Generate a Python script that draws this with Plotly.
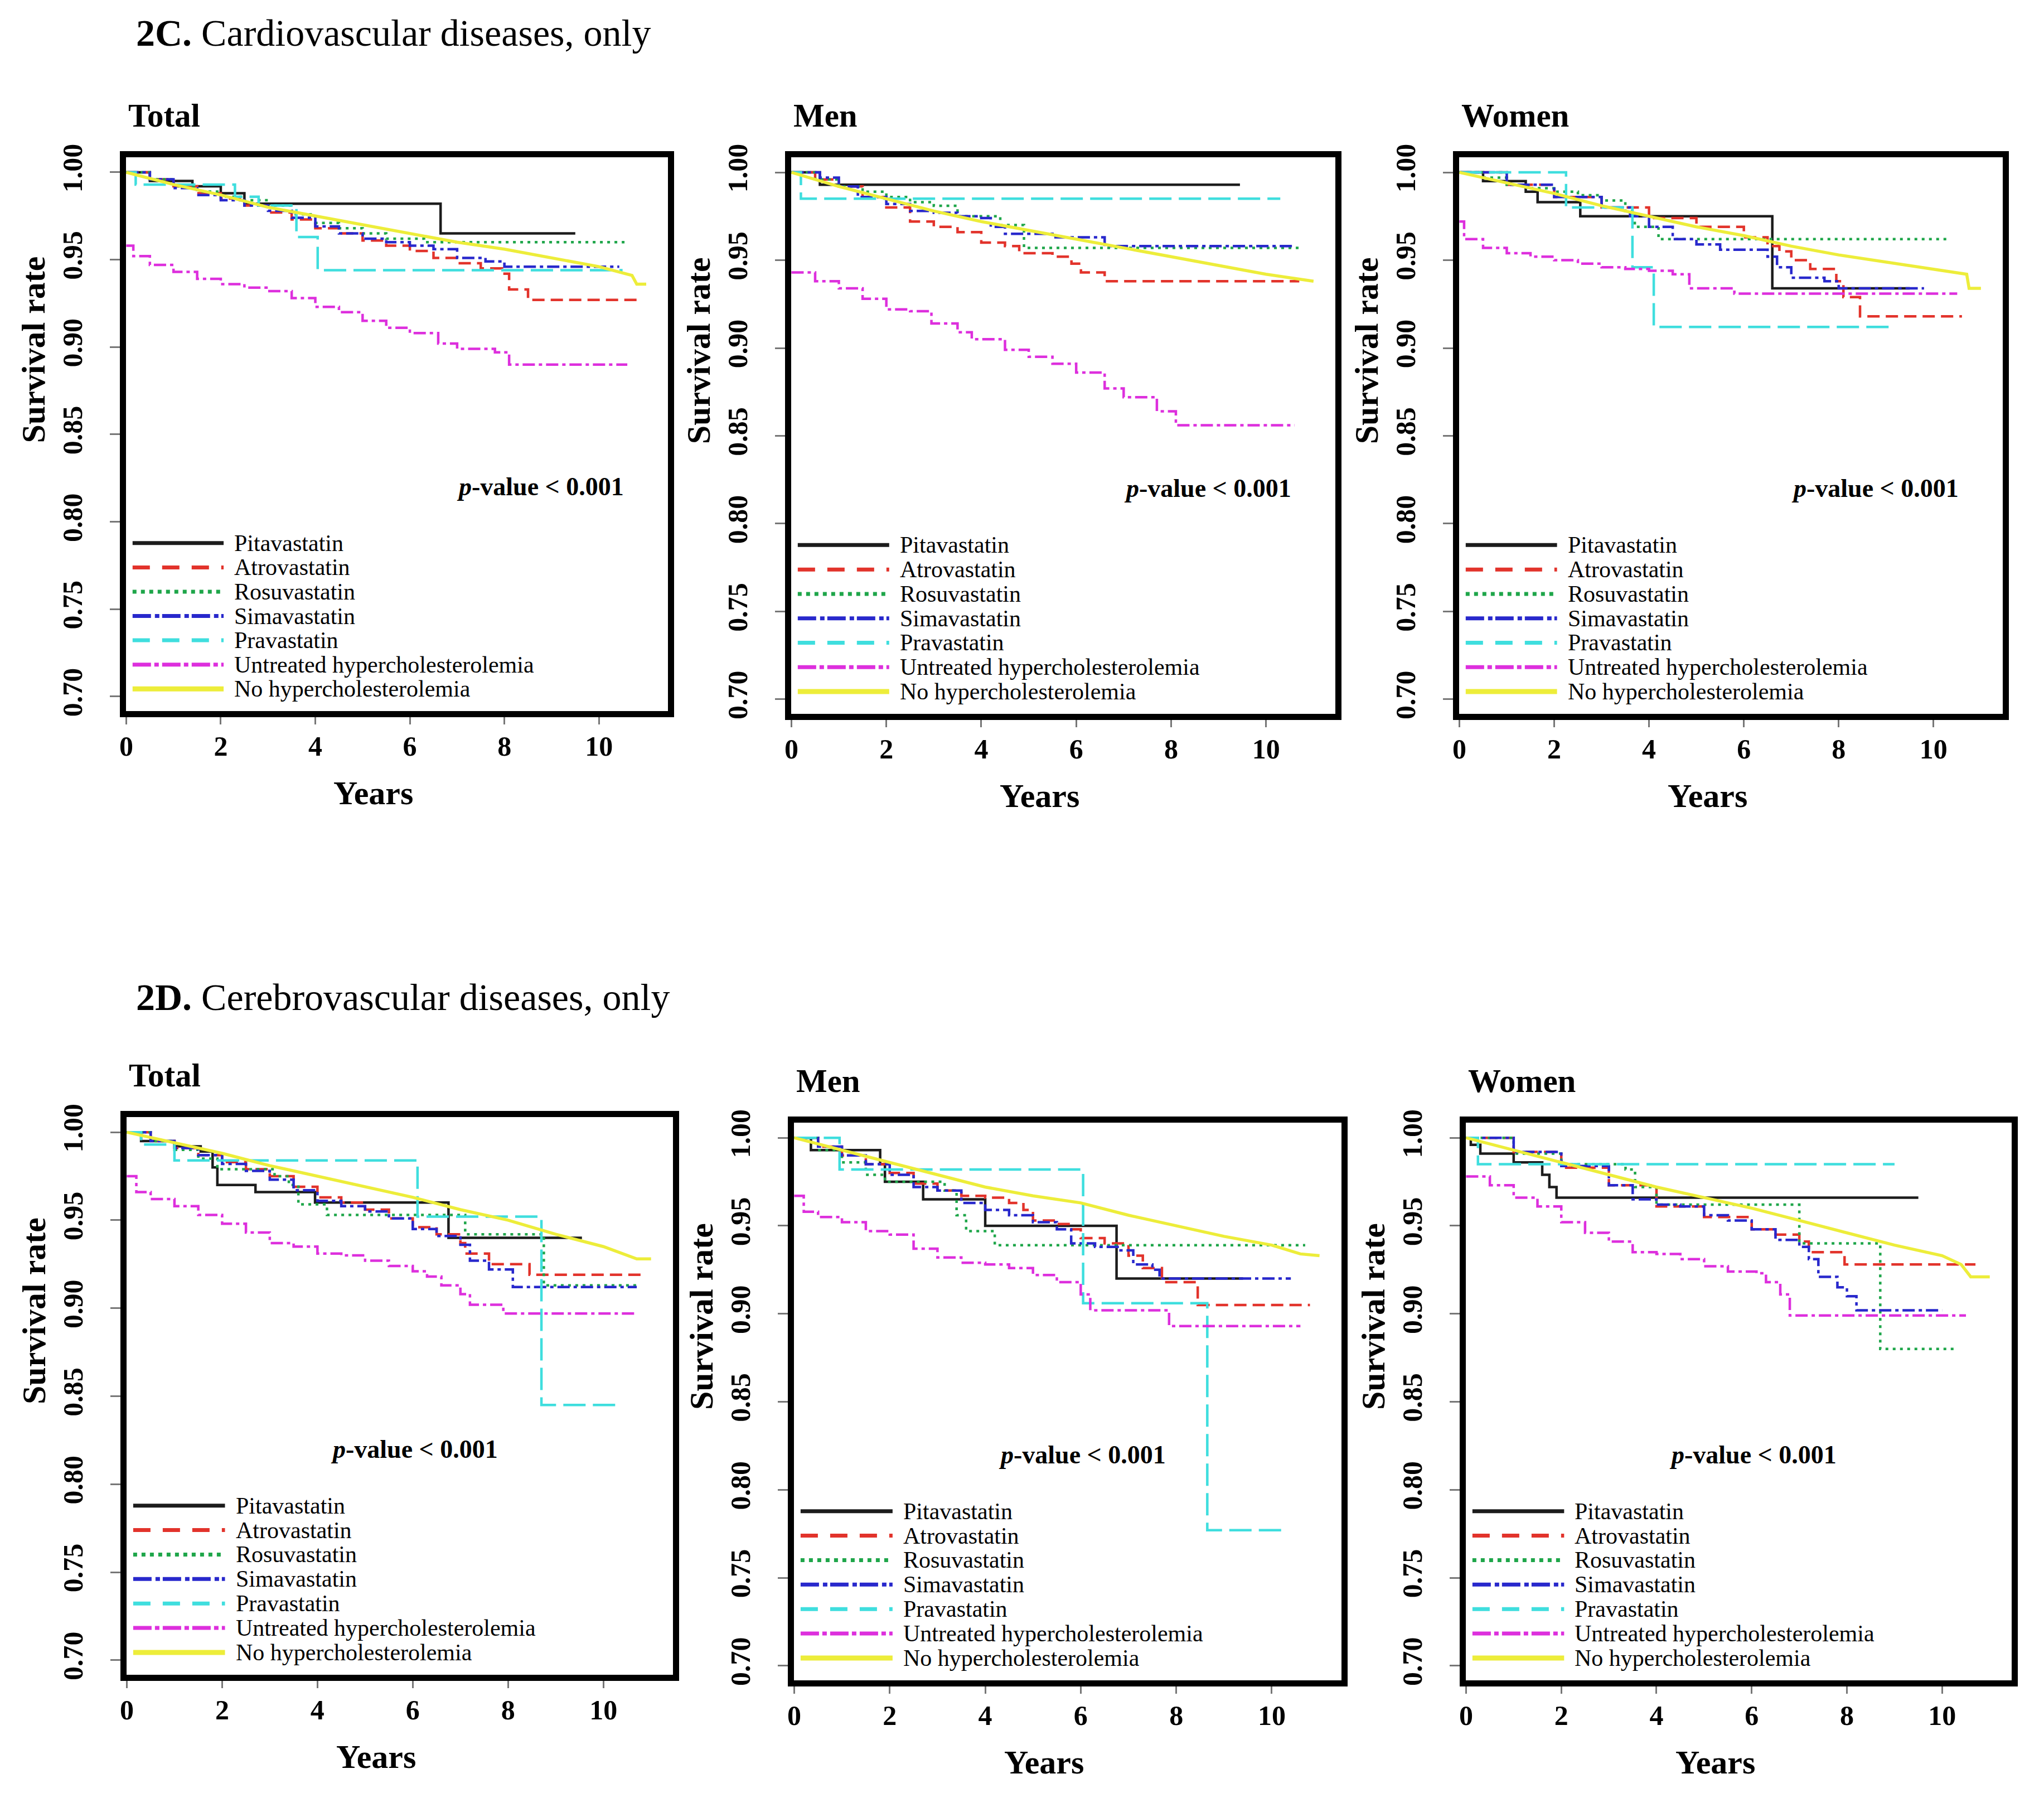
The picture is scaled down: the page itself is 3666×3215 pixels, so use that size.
import plotly.graph_objects as go

W, H = 3666, 3215
SERIF = "Liberation Serif"

# ---- series labels and styles -------------------------------------------
NAMES = ["Pitavastatin", "Atrovastatin", "Rosuvastatin", "Simavastatin",
         "Pravastatin", "Untreated hypercholesterolemia", "No hypercholesterolemia"]
COLORS = ["#1c1c1c", "#e2332b", "#1fa64a", "#2828cc", "#3fdede", "#dd2fdd", "#eded3a"]
CURVE_DASH = ["solid", "22px,11px", "5px,8px", "22px,7px,6px,7px",
              "40px,13px", "22px,7px,6px,7px", "solid"]
KEY_DASH = ["solid", "31px,22px", "7px,8px", "33px,7px,8px,5px",
            "31px,22px", "33px,6px,8px,6px", "solid"]
CURVE_SHAPE = ["hv", "hv", "hv", "hv", "hv", "hv", "linear"]

YEAR_TICKS = [0, 2, 4, 6, 8, 10]
RATE_TICKS = [0.70, 0.75, 0.80, 0.85, 0.90, 0.95, 1.00]
SECTION_TAGS = ["2C.", "2D."]
SECTIONS = ["Cardiovascular diseases, only", "Cerebrovascular diseases, only"]
GROUPS = ["Total", "Men", "Women"]

# ---- 2C cardiovascular: Total ---------------------------------------------
cv_total_t = [
    [0, 0.5, 1.4, 2.0, 2.5, 6.65, 9.5],
    [0, 0.5, 1, 1.5, 2, 2.5, 3, 3.5, 4, 4.5, 5, 5.5, 6, 6.5, 7, 7.5, 7.95, 8.1, 8.5, 10.8],
    [0, 0.5, 1, 1.5, 2, 2.5, 3, 3.5, 4, 4.5, 5, 5.5, 6.3, 10.57],
    [0, 0.5, 1, 1.5, 2, 2.5, 3, 3.5, 4, 4.5, 5, 5.5, 6, 6.5, 7, 7.6, 8.0, 10.43],
    [0, 0.2, 2.3, 2.8, 3.6, 4.05, 10.5],
    [0, 0.15, 0.5, 1, 1.5, 2, 2.5, 3, 3.5, 4, 4.5, 5, 5.5, 6, 6.6, 7.0, 7.8, 8.1, 10.6],
    [0, 1, 2, 3, 4, 5, 6, 7, 8, 9, 10, 10.7, 10.8, 11.0],
]
cv_total_s = [
    [1.0, 0.995, 0.992, 0.988, 0.982, 0.965, 0.965],
    [1.0, 0.996, 0.992, 0.988, 0.985, 0.981, 0.977, 0.973, 0.968, 0.965, 0.961, 0.958, 0.955,
     0.951, 0.948, 0.945, 0.942, 0.933, 0.927, 0.927],
    [1.0, 0.996, 0.992, 0.989, 0.986, 0.984, 0.981, 0.976, 0.971, 0.968, 0.965, 0.962, 0.960, 0.960],
    [1.0, 0.996, 0.991, 0.987, 0.984, 0.981, 0.978, 0.974, 0.969, 0.965, 0.962, 0.960, 0.958,
     0.956, 0.951, 0.949, 0.946, 0.946],
    [1.0, 0.993, 0.986, 0.981, 0.963, 0.944, 0.944],
    [0.958, 0.952, 0.947, 0.943, 0.939, 0.936, 0.934, 0.932, 0.928, 0.923, 0.920, 0.915, 0.911,
     0.908, 0.902, 0.899, 0.897, 0.890, 0.890],
    [1.0, 0.993, 0.987, 0.980, 0.975, 0.970, 0.965, 0.960, 0.956, 0.951, 0.946, 0.941, 0.936, 0.936],
]

# ---- 2C cardiovascular: Men -----------------------------------------------
cv_men_t = [
    [0, 0.6, 9.45],
    [0, 0.5, 1, 1.5, 2, 2.5, 3, 3.5, 4, 4.5, 4.8, 5.5, 5.9, 6.1, 6.6, 10.7],
    [0, 0.5, 1, 1.5, 2, 2.5, 3, 3.5, 4.4, 4.9, 10.7],
    [0, 0.6, 1, 1.4, 2, 2.5, 3, 3.5, 4, 4.2, 4.5, 5.5, 6.6, 10.6],
    [0, 0.2, 10.3],
    [0, 0.5, 1, 1.5, 2, 2.5, 2.95, 3.5, 3.8, 4.5, 5, 5.5, 6, 6.6, 7, 7.7, 8.1, 10.6],
    [0, 1, 2, 3, 4, 5, 6, 7, 8, 9, 10, 11.0],
]
cv_men_s = [
    [1.0, 0.993, 0.993],
    [1.0, 0.996, 0.992, 0.986, 0.980, 0.972, 0.969, 0.966, 0.960, 0.958, 0.954, 0.952, 0.948,
     0.943, 0.938, 0.938],
    [1.0, 0.996, 0.992, 0.989, 0.986, 0.983, 0.981, 0.975, 0.970, 0.957, 0.957],
    [1.0, 0.997, 0.992, 0.986, 0.982, 0.978, 0.977, 0.975, 0.974, 0.969, 0.965, 0.963, 0.958, 0.958],
    [1.0, 0.985, 0.985],
    [0.943, 0.938, 0.934, 0.928, 0.922, 0.921, 0.914, 0.909, 0.905, 0.899, 0.895, 0.891, 0.886,
     0.877, 0.872, 0.864, 0.856, 0.856],
    [1.0, 0.992, 0.985, 0.978, 0.972, 0.967, 0.962, 0.957, 0.952, 0.947, 0.942, 0.938],
]

# ---- 2C cardiovascular: Women ---------------------------------------------
cv_women_t = [
    [0, 0.5, 1.4, 1.65, 2.55, 6.6, 9.5],
    [0, 1, 2, 3, 4, 5, 6, 6.5, 6.75, 7.0, 7.4, 7.95, 8.1, 8.45, 10.6],
    [0, 0.5, 1, 1.5, 2, 2.5, 3, 3.5, 3.7, 4.2, 10.3],
    [0, 1, 2, 3, 3.6, 4, 4.5, 5, 5.5, 6.5, 6.7, 7.0, 7.7, 8.0, 9.8],
    [0, 2.25, 3.65, 4.1, 9.1],
    [0, 0.1, 0.5, 1, 1.5, 2, 2.5, 3, 3.5, 4, 4.5, 4.85, 5.8, 10.5],
    [0, 1, 2, 3, 4, 5, 6, 7, 8, 9, 10, 10.7, 10.75, 11.0],
]
cv_women_s = [
    [1.0, 0.995, 0.989, 0.983, 0.975, 0.934, 0.934],
    [1.0, 0.993, 0.986, 0.980, 0.974, 0.969, 0.963, 0.958, 0.955, 0.950, 0.945, 0.938, 0.929,
     0.918, 0.918],
    [1.0, 0.997, 0.993, 0.991, 0.989, 0.987, 0.984, 0.978, 0.969, 0.962, 0.962],
    [1.0, 0.993, 0.986, 0.980, 0.975, 0.969, 0.962, 0.959, 0.956, 0.952, 0.946, 0.940, 0.938,
     0.934, 0.934],
    [1.0, 0.980, 0.946, 0.912, 0.912],
    [0.972, 0.962, 0.957, 0.954, 0.952, 0.950, 0.948, 0.946, 0.945, 0.944, 0.942, 0.934, 0.931, 0.931],
    [1.0, 0.994, 0.988, 0.981, 0.975, 0.969, 0.964, 0.958, 0.953, 0.949, 0.945, 0.942, 0.934, 0.934],
]

# ---- 2D cerebrovascular: Total --------------------------------------------
cb_total_t = [
    [0, 0.3, 1.0, 1.55, 1.8, 1.9, 2.7, 3.95, 6.75, 9.55],
    [0, 0.5, 1, 1.5, 2, 2.5, 3, 3.5, 4, 4.5, 5, 5.5, 6, 6.5, 7.0, 7.1, 7.6, 8.45, 10.8],
    [0, 0.5, 1, 1.5, 1.9, 3.1, 3.4, 3.6, 4.2, 7.1, 8.75, 10.7],
    [0, 0.5, 1, 1.5, 2, 2.5, 3, 3.5, 4, 4.5, 5, 5.5, 6, 6.5, 7.0, 7.2, 7.6, 8.1, 10.7],
    [0, 0.3, 1.0, 6.1, 8.7, 10.25],
    [0, 0.2, 0.5, 1, 1.5, 2, 2.5, 3, 3.5, 4, 4.5, 5, 5.5, 6, 6.3, 6.6, 7.0, 7.2, 7.9, 10.7],
    [0, 1, 2, 3, 4, 5, 6, 7, 8, 9, 10, 10.7, 11.0],
]
cb_total_s = [
    [1.0, 0.995, 0.992, 0.989, 0.980, 0.970, 0.966, 0.960, 0.940, 0.940],
    [1.0, 0.995, 0.991, 0.987, 0.983, 0.979, 0.975, 0.969, 0.963, 0.960, 0.956, 0.951, 0.946,
     0.942, 0.937, 0.931, 0.925, 0.919, 0.919],
    [1.0, 0.995, 0.990, 0.985, 0.979, 0.975, 0.970, 0.959, 0.953, 0.942, 0.913, 0.913],
    [1.0, 0.995, 0.991, 0.987, 0.982, 0.978, 0.973, 0.967, 0.961, 0.958, 0.955, 0.951, 0.945,
     0.941, 0.936, 0.927, 0.922, 0.912, 0.912],
    [1.0, 0.993, 0.984, 0.952, 0.845, 0.845],
    [0.975, 0.966, 0.962, 0.958, 0.953, 0.948, 0.943, 0.937, 0.935, 0.931, 0.930, 0.927, 0.924,
     0.921, 0.918, 0.913, 0.908, 0.902, 0.897, 0.897],
    [1.0, 0.994, 0.988, 0.981, 0.975, 0.969, 0.963, 0.956, 0.950, 0.942, 0.935, 0.928, 0.928],
]

# ---- 2D cerebrovascular: Men ----------------------------------------------
cb_men_t = [
    [0, 0.35, 1.8, 1.9, 2.7, 4.0, 6.75, 9.4],
    [0, 0.5, 1, 1.5, 2, 2.5, 3, 3.5, 4, 4.5, 4.8, 5.0, 5.5, 5.8, 6.0, 6.5, 7.0, 7.3, 7.7, 8.45, 10.8],
    [0, 0.5, 1, 1.5, 1.9, 3.15, 3.4, 3.6, 4.2, 10.7],
    [0, 0.5, 1, 1.5, 2, 2.5, 3, 3.5, 4, 4.5, 5, 5.5, 5.8, 6.3, 6.8, 7.1, 7.5, 7.65, 10.4],
    [0, 0.95, 6.05, 8.65, 10.3],
    [0, 0.2, 0.5, 1, 1.5, 2, 2.5, 3, 3.5, 4, 4.5, 5, 5.5, 6.0, 6.2, 7.85, 10.6],
    [0, 1, 2, 3, 4, 5, 6, 7, 8, 9, 10, 10.6, 11.0],
]
cb_men_s = [
    [1.0, 0.993, 0.985, 0.975, 0.965, 0.950, 0.920, 0.920],
    [1.0, 0.995, 0.990, 0.985, 0.980, 0.974, 0.970, 0.967, 0.966, 0.963, 0.959, 0.953, 0.951,
     0.948, 0.943, 0.940, 0.933, 0.926, 0.918, 0.905, 0.905],
    [1.0, 0.993, 0.986, 0.979, 0.975, 0.970, 0.956, 0.947, 0.939, 0.939],
    [1.0, 0.995, 0.990, 0.985, 0.979, 0.972, 0.970, 0.963, 0.959, 0.956, 0.952, 0.948, 0.940,
     0.938, 0.936, 0.928, 0.925, 0.920, 0.920],
    [1.0, 0.982, 0.906, 0.777, 0.777],
    [0.967, 0.958, 0.955, 0.952, 0.947, 0.945, 0.937, 0.932, 0.929, 0.928, 0.926, 0.922, 0.918,
     0.911, 0.902, 0.893, 0.893],
    [1.0, 0.993, 0.986, 0.979, 0.972, 0.967, 0.963, 0.956, 0.950, 0.944, 0.939, 0.934, 0.933],
]

# ---- 2D cerebrovascular: Women --------------------------------------------
cb_women_t = [
    [0, 0.1, 0.3, 1.0, 1.6, 1.75, 1.9, 9.5],
    [0, 1, 2, 3, 4, 5, 6, 6.5, 7.0, 7.2, 7.95, 10.7],
    [0, 1, 2, 3.35, 3.55, 4.0, 7.0, 8.7, 10.3],
    [0, 1, 2, 3, 3.5, 4, 4.5, 5, 5.5, 6, 6.5, 7.0, 7.2, 7.4, 7.8, 8.0, 8.2, 10.0],
    [0, 0.25, 9.0],
    [0, 0.5, 1, 1.5, 2, 2.5, 3, 3.5, 4, 4.5, 5, 5.5, 6.1, 6.3, 6.6, 6.8, 10.5],
    [0, 1, 2, 3, 4, 5, 6, 7, 8, 9, 10, 10.4, 10.6, 11.0],
]
cb_women_s = [
    [1.0, 0.996, 0.991, 0.986, 0.979, 0.972, 0.966, 0.966],
    [1.0, 0.992, 0.983, 0.973, 0.961, 0.955, 0.948, 0.945, 0.941, 0.935, 0.928, 0.928],
    [1.0, 0.991, 0.985, 0.982, 0.972, 0.962, 0.940, 0.880, 0.880],
    [1.0, 0.992, 0.984, 0.973, 0.965, 0.962, 0.961, 0.956, 0.953, 0.948, 0.942, 0.938, 0.931,
     0.921, 0.915, 0.910, 0.902, 0.902],
    [1.0, 0.985, 0.985],
    [0.978, 0.973, 0.966, 0.961, 0.952, 0.946, 0.941, 0.935, 0.934, 0.931, 0.927, 0.924, 0.923,
     0.918, 0.911, 0.899, 0.899],
    [1.0, 0.993, 0.986, 0.979, 0.972, 0.966, 0.960, 0.953, 0.946, 0.939, 0.933, 0.928, 0.921, 0.921],
]

PANELS = [
    (cv_total_t, cv_total_s), (cv_men_t, cv_men_s), (cv_women_t, cv_women_s),
    (cb_total_t, cb_total_s), (cb_men_t, cb_men_s), (cb_women_t, cb_women_s),
]

# inner plot boxes in page pixels: left, right, top, bottom
BOXES = [
    (226, 1198, 282, 1275), (1419, 2395, 282, 1280), (2617, 3592, 282, 1280),
    (227, 1207, 2003, 3003), (1424, 2406, 2013, 3013), (2629, 3608, 2013, 3013),
]
SECTION_Y = [59, 1788]
OFF = 8  # page body margin of the html page

X_RANGE = [-0.005, 11.46]
Y_RANGE = [0.6917, 1.0086]


def font(size, bold=False):
    return dict(family=SERIF, size=size, color="black", weight="bold" if bold else "normal")


def px(v):
    return (v - OFF) / W


def py(v):
    return 1 - (v - OFF) / H


def dx(v):
    return (v - X_RANGE[0]) / (X_RANGE[1] - X_RANGE[0])


def dy(v):
    return (v - Y_RANGE[0]) / (Y_RANGE[1] - Y_RANGE[0])


fig = go.Figure()
annotations = []
shapes = []

for k, (ts, ss) in enumerate(PANELS):
    n = k + 1
    sx = "" if n == 1 else str(n)
    xa, ya = "x" + sx, "y" + sx
    left, right, top, bottom = BOXES[k]

    for j in range(len(NAMES)):
        fig.add_trace(go.Scatter(
            x=ts[j], y=ss[j], mode="lines", name=NAMES[j], showlegend=False,
            line=dict(color=COLORS[j], width=5.5 if j == 6 else 4.5,
                      dash=CURVE_DASH[j], shape=CURVE_SHAPE[j]),
            xaxis=xa, yaxis=ya,
        ))

    fig.update_layout(**{
        "xaxis" + sx: dict(
            domain=[px(left), px(right)], anchor=ya, range=X_RANGE,
            tickvals=YEAR_TICKS, ticks="outside", ticklen=13, tickwidth=3, tickcolor="#777",
            tickfont=font(50, True), ticklabelstandoff=-4,
            showline=True, linewidth=11, linecolor="black", mirror=True,
            showgrid=False, zeroline=False, automargin=False,
        ),
        "yaxis" + sx: dict(
            domain=[py(bottom), py(top)], anchor=xa, range=Y_RANGE,
            tickvals=RATE_TICKS, tickformat=".2f", tickangle=-90,
            ticks="outside", ticklen=18, tickwidth=3, tickcolor="#777",
            tickfont=font(50, True), ticklabelstandoff=30,
            showline=True, linewidth=11, linecolor="black", mirror=True,
            showgrid=False, zeroline=False, automargin=False,
        ),
    })

    # panel title
    annotations.append(dict(
        text=GROUPS[k % 3], xref="paper", yref="paper", x=px(left + 2), y=py(top - 75),
        xanchor="left", yanchor="middle", showarrow=False, font=font(59, True)))
    # axis titles
    annotations.append(dict(
        text="Survival rate", xref="paper", yref="paper", x=px(left - 166),
        y=py(bottom - 0.652 * (bottom - top)), textangle=-90,
        xanchor="center", yanchor="middle", showarrow=False, font=font(60, True)))
    annotations.append(dict(
        text="Years", xref=xa + " domain", yref="paper", x=dx(5.23), y=py(bottom + 147),
        xanchor="center", yanchor="middle", showarrow=False, font=font(60, True)))
    # p-value
    if k < 3:
        pxx, pxa = dx(10.55), "right"
    else:
        pxx, pxa = dx(6.03), "center"
    annotations.append(dict(
        text="<i>p</i>-value &lt; 0.001", xref=xa + " domain", yref=ya + " domain",
        x=pxx, y=dy(0.82), xanchor=pxa, yanchor="middle", showarrow=False, font=font(46, True)))

    # key drawn inside the frame
    for j in range(len(NAMES)):
        ky = dy(0.7878 - j * 0.0139)
        shapes.append(dict(
            type="line", xref=xa + " domain", yref=ya + " domain",
            x0=dx(0.134), x1=dx(2.06), y0=ky, y1=ky,
            line=dict(color=COLORS[j], width=9 if j == 6 else 7, dash=KEY_DASH[j])))
        annotations.append(dict(
            text=NAMES[j], xref=xa + " domain", yref=ya + " domain", x=dx(2.26), y=ky,
            xanchor="left", yanchor="middle", showarrow=False, font=font(42)))

for r in range(2):
    annotations.append(dict(
        text="<b>" + SECTION_TAGS[r] + "</b> " + SECTIONS[r], xref="paper", yref="paper",
        x=px(242), y=py(SECTION_Y[r]), xanchor="left", yanchor="middle",
        showarrow=False, font=font(68)))

fig.update_layout(
    template="none",
    width=W, height=H,
    margin=dict(l=0, r=0, t=0, b=0),
    paper_bgcolor="white", plot_bgcolor="white",
    showlegend=False,
    annotations=annotations, shapes=shapes,
    font=dict(family=SERIF, color="black"),
)

fig.write_html("out.html")
